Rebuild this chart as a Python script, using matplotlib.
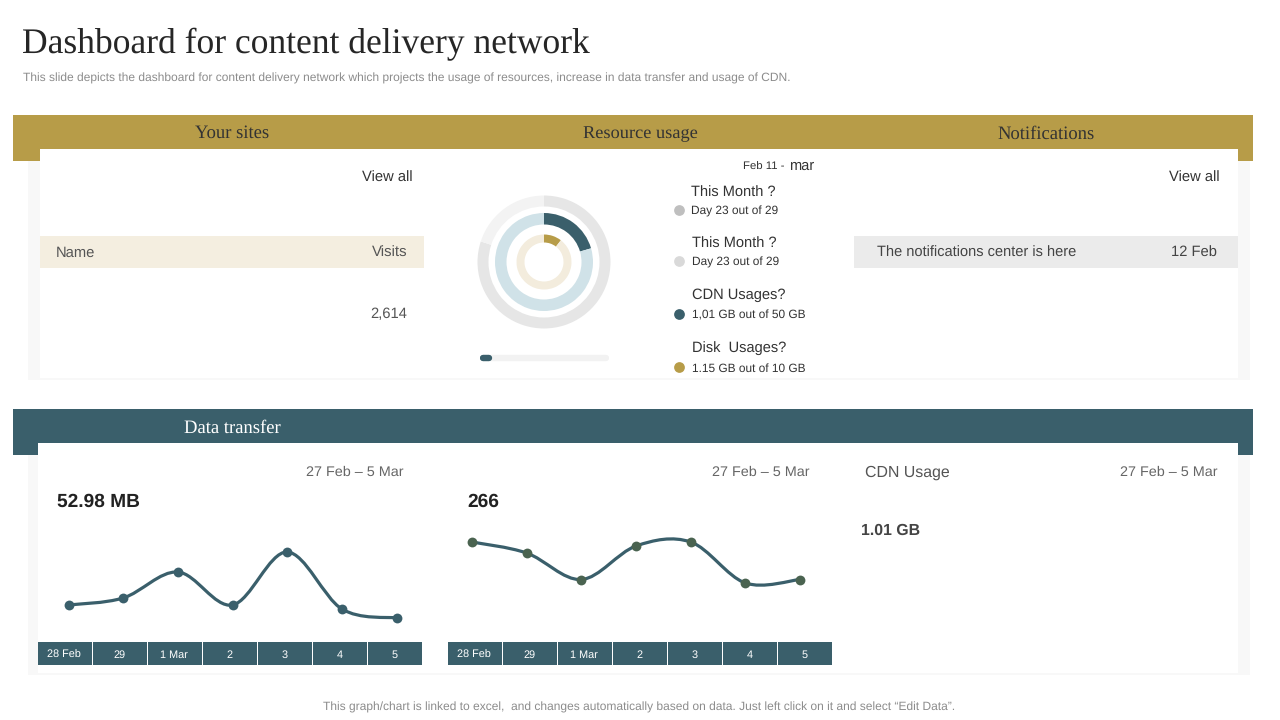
import numpy as np
import matplotlib
matplotlib.use('Agg')
import matplotlib.pyplot as plt
from matplotlib.patches import Rectangle, PathPatch
from matplotlib.path import Path

# colours
GOLD = '#b79c48'
TEAL = '#3a5f6b'
INK = '#333333'
GREY_TEXT = '#8c8c8c'

# data
days = ['28 Feb', '29', '1 Mar', '2', '3', '4', '5']
transfer_values = [35, 42, 68, 35, 88, 31, 22]
requests_values = [98, 87, 60.5, 94, 98, 57, 60.5]

outer_ring = [0.80, 0.20]
middle_ring = [0.205, 0.795]
inner_ring = [0.105, 0.895]
progress_share = 0.07

legend_titles = ['This Month ?', 'This Month ?', 'CDN Usages?', 'Disk  Usages?']
legend_details = ['Day 23 out of 29', 'Day 23 out of 29', '1,01 GB out of 50 GB', '1.15 GB out of 10 GB']
legend_colors = ['#bfbfbf', '#d9d9d9', TEAL, GOLD]

plt.rcParams['font.family'] = ['Liberation Sans', 'DejaVu Sans']
plt.rcParams['text.hinting'] = 'no_hinting'
W, H = 1280, 720
fig = plt.figure(figsize=(W / 100, H / 100), dpi=100, facecolor='white')
bg = fig.add_axes([0, 0, 1, 1])
bg.set_xlim(0, W)
bg.set_ylim(H, 0)
bg.axis('off')


def box(x0, y0, x1, y1, color, z=1):
    bg.add_patch(Rectangle((x0, y0), x1 - x0, y1 - y0, fc=color, ec='none', zorder=z))


def label(x, y, s, size=11, color=INK, ha='left', va='center', **kw):
    bg.text(x, y, s, fontsize=size, color=color, ha=ha, va=va, zorder=5, **kw)


def axes_px(x0, y0, x1, y1):
    return fig.add_axes([x0 / W, 1 - y1 / H, (x1 - x0) / W, (y1 - y0) / H])


def smooth_line(ax, xs, ys, color):
    # catmull-rom turned into bezier segments, the original has smoothed lines
    xs = np.asarray(xs, float)
    ys = np.asarray(ys, float)
    px = np.concatenate([[xs[0]], xs, [xs[-1]]])
    py = np.concatenate([[ys[0]], ys, [ys[-1]]])
    verts = [(xs[0], ys[0])]
    codes = [Path.MOVETO]
    for i in range(1, len(px) - 2):
        verts.append((px[i] + (px[i + 1] - px[i - 1]) / 6, py[i] + (py[i + 1] - py[i - 1]) / 6))
        verts.append((px[i + 1] - (px[i + 2] - px[i]) / 6, py[i + 1] - (py[i + 2] - py[i]) / 6))
        verts.append((px[i + 1], py[i + 1]))
        codes += [Path.CURVE4] * 3
    ax.add_patch(PathPatch(Path(verts, codes), fc='none', ec=color, lw=2.3, zorder=2))


# title
label(22, 44, 'Dashboard for content delivery network', size=25.6, color='#262626',
      family='Liberation Serif')
label(23, 78, 'This slide depicts the dashboard for content delivery network which projects the usage of '
      'resources, increase in data transfer and usage of CDN.', size=8.67, color=GREY_TEXT)

# bands and cards
box(13, 115, 1253, 161, GOLD)
box(28, 161, 1250, 380, '#f8f8f8')
box(40, 149, 1238, 378, 'white', 2)
box(13, 409, 1253, 455, TEAL)
box(28, 455, 1250, 675, '#f8f8f8')
box(38, 443, 1238, 673, 'white', 2)
box(40, 236, 424, 268, '#f4eee0', 3)
box(854, 236, 1238, 268, '#ebebeb', 3)

label(232, 133, 'Your sites', size=13.4, color='#333333', ha='center', family='Liberation Serif')
label(640, 134, 'Resource usage', size=13.2, color='#333333', ha='center', family='Liberation Serif')
label(1046, 134, 'Notifications', size=13.4, color='#333333', ha='center', family='Liberation Serif')
label(232, 428, 'Data transfer', size=13.4, color='white', ha='center', family='Liberation Serif')

# upper cards text
label(413, 178, 'View all', size=10.6, ha='right')
label(1220, 178, 'View all', size=10.6, ha='right')
label(56, 253, 'Name', size=10.6, color='#555555')
label(408, 253, 'Visits', size=10.8, color='#555555', ha='right')
label(407, 314, '2,614', size=10.6, color='#555555', ha='right')
label(877, 253, 'The notifications center is here', size=10.5, color='#444444')
label(1217, 253, '12 Feb', size=10.6, color='#444444', ha='right')
label(743, 167, 'Feb 11 -', size=8.2)
label(789, 166, 'mar', size=10.5)

# rings
ring_ax = axes_px(474, 192, 614, 332)
ring_ax.pie(outer_ring, radius=66.5, colors=['#e6e6e6', '#f3f3f3'], startangle=90,
            counterclock=False, wedgeprops={'width': 11})
ring_ax.pie(middle_ring, radius=49, colors=[TEAL, '#d0e2e8'], startangle=90,
            counterclock=False, wedgeprops={'width': 11.5})
ring_ax.pie(inner_ring, radius=27.5, colors=[GOLD, '#f3ecdd'], startangle=90,
            counterclock=False, wedgeprops={'width': 8})
ring_ax.set_xlim(-70, 70)
ring_ax.set_ylim(-70, 70)
ring_ax.set_zorder(4)

# progress bar, round caps
bar_ax = axes_px(480, 350, 609, 366)
bar_ax.set_xlim(0, 1)
bar_ax.set_ylim(0, 1)
bar_ax.axis('off')
bar_ax.set_zorder(4)
bar_ax.plot([0.02, 0.98], [0.5, 0.5], color='#f2f2f2', lw=4.6, solid_capstyle='round')
bar_ax.plot([0.02, progress_share], [0.5, 0.5], color=TEAL, lw=4.6, solid_capstyle='round')

# legend of the rings
title_y = [193, 244, 295, 348]
detail_y = [211, 262, 315, 368]
title_x = [691, 692, 692, 692]
for i in range(4):
    label(title_x[i], title_y[i], legend_titles[i], size=10.5)
    label(title_x[i], detail_y[i] + 0.5, legend_details[i], size=8.6)
    bg.scatter([679], [detail_y[i] - 1], s=60, color=legend_colors[i], lw=0, zorder=5)

# lower cards text
for x in (404, 810, 1218):
    label(x, 472, '27 Feb \u2013 5 Mar', size=10.4, color='#666666', ha='right')
label(57, 502, '52.98 MB', size=13.8, color='#222222', weight='bold')
label(467, 502, '266', size=13.8, color='#222222', weight='bold')
label(865, 473, 'CDN Usage', size=11.4, color='#555555')
label(861, 531, '1.01 GB', size=11.4, color='#444444', weight='bold')

# line charts
charts = [(68.5, 396.5, transfer_values, TEAL), (472, 800, requests_values, '#4a6350')]
for x0, x1, values, dot_color in charts:
    ax = axes_px(x0, 520, x1, 640)
    ax.set_xlim(0, 6)
    ax.set_ylim(0, 120)
    ax.axis('off')
    ax.set_zorder(4)
    xs = np.arange(len(values))
    smooth_line(ax, xs, values, TEAL)
    ax.scatter(xs, values, s=50, color=dot_color, lw=0, zorder=3, clip_on=False)

# date strips
for left in (38, 448):
    cell = (422 - 38 + 1.5) / len(days)
    for i, d in enumerate(days):
        box(left + i * cell, 642, left + (i + 1) * cell - 1.5, 665, TEAL, 3)
        label(left + (i + 0.5) * cell - 1.5, 657.5, d, size=7.8, color='white', ha='center', va='baseline')

# footer
label(639, 707, 'This graph/chart is linked to excel,  and changes automatically based on data. '
      'Just left click on it and select \u201cEdit Data\u201d.', size=8.65, color=GREY_TEXT, ha='center')

fig.savefig('out.png', dpi=100)
